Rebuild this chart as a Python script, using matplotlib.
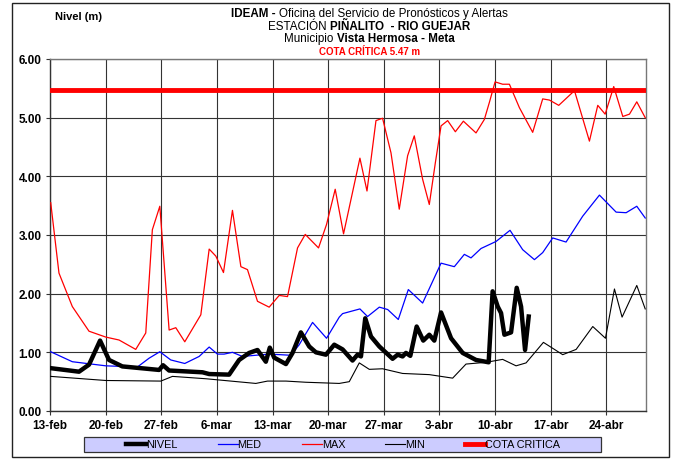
import matplotlib
matplotlib.use("Agg")
import matplotlib.pyplot as plt
from matplotlib.patches import Rectangle

plt.rcParams['font.family'] = ['Liberation Sans', 'DejaVu Sans']

# Data (x = days since 13-feb)
tick_days = [0, 7, 14, 21, 28, 35, 42, 49, 56, 63, 70]
tick_labels = ['13-feb', '20-feb', '27-feb', '6-mar', '13-mar', '20-mar',
               '27-mar', '3-abr', '10-abr', '17-abr', '24-abr']
cota = 5.47

max_d = [0.09, 1.13, 2.81, 4.91, 7.02, 8.69, 10.79, 12.05, 12.88, 13.82, 14.99, 15.83,
         16.96, 18.98, 20.03, 20.87, 21.83, 22.96, 24.02, 24.85, 26.11, 27.58, 28.84,
         29.89, 31.15, 32.12, 33.79, 34.80, 35.89, 36.94, 39.0, 39.89, 41.02, 41.85,
         42.91, 43.95, 45.0, 45.84, 46.89, 47.73, 48.49, 49.21, 50.04, 51.01, 52.02,
         53.61, 54.66, 55.29, 56.01, 56.96, 57.81, 59.07, 60.74, 62.0, 62.85, 64.02,
         66.0, 67.88, 68.93, 69.86, 70.94, 72.08, 72.92, 73.84, 74.9]
max_v = [3.55, 2.35, 1.78, 1.36, 1.26, 1.21, 1.05, 1.33, 3.09, 3.49, 1.38, 1.42,
         1.18, 1.64, 2.76, 2.64, 2.36, 3.42, 2.46, 2.41, 1.87, 1.77, 1.97,
         1.95, 2.78, 3.01, 2.78, 3.18, 3.78, 3.02, 4.31, 3.75, 4.95, 4.99,
         4.40, 3.44, 4.35, 4.69, 3.95, 3.52, 4.23, 4.86, 4.95, 4.76, 4.94,
         4.74, 4.97, 5.26, 5.61, 5.57, 5.57, 5.17, 4.75, 5.32, 5.30, 5.21,
         5.46, 4.60, 5.21, 5.06, 5.53, 5.02, 5.06, 5.27, 5.00]

med_d = [0.09, 2.81, 7.02, 11.0, 12.47, 13.82, 15.2, 16.96, 18.77, 20.03, 21.07, 21.91,
         22.96, 24.22, 27.58, 30.31, 31.36, 33.04, 34.8, 36.4, 36.82, 39.0, 39.96,
         41.44, 42.49, 43.83, 45.09, 46.89, 49.21, 50.88, 52.14, 52.98, 54.24, 56.13,
         57.89, 59.48, 60.96, 62.0, 63.26, 64.94, 67.03, 69.14, 71.24, 72.5, 73.84, 74.9]
med_v = [1.01, 0.84, 0.77, 0.75, 0.90, 1.01, 0.87, 0.81, 0.93, 1.09, 0.97, 0.97,
         1.00, 0.93, 0.97, 0.95, 1.13, 1.51, 1.24, 1.60, 1.66, 1.74, 1.61,
         1.77, 1.73, 1.56, 2.07, 1.84, 2.52, 2.46, 2.67, 2.61, 2.77, 2.89,
         3.08, 2.75, 2.58, 2.70, 2.95, 2.88, 3.32, 3.68, 3.39, 3.38, 3.49, 3.29]

min_d = [0.09, 7.02, 13.95, 15.41, 19.6, 25.9, 27.37, 29.69, 32.2, 36.4, 37.66, 38.92,
         40.18, 41.85, 44.37, 47.73, 50.67, 52.35, 54.87, 56.96, 58.65, 59.91, 62.09,
         64.52, 66.21, 68.3, 69.9, 71.03, 71.99, 73.84, 74.9]
min_v = [0.59, 0.52, 0.51, 0.59, 0.55, 0.47, 0.51, 0.51, 0.49, 0.47, 0.50, 0.82,
         0.71, 0.72, 0.64, 0.62, 0.56, 0.80, 0.83, 0.88, 0.77, 0.82, 1.17,
         0.96, 1.05, 1.44, 1.24, 2.08, 1.60, 2.14, 1.74]

niv_d = [0.09, 3.65, 4.91, 6.3, 7.43, 9.1, 13.73, 14.23, 14.99, 19.19, 20.03, 22.54,
         23.8, 25.06, 26.11, 27.16, 27.66, 28.21, 29.69, 30.52, 31.57, 32.62, 33.46,
         34.72, 35.77, 36.82, 38.07, 38.7, 39.13, 39.67, 40.39, 41.44, 43.11, 43.75,
         44.37, 44.79, 45.34, 46.14, 46.97, 47.73, 48.36, 49.21, 50.47, 51.93, 53.61,
         55.2, 55.7, 56.34, 56.76, 57.18, 58.02, 58.73, 59.28, 59.78, 60.24]
niv_v = [0.73, 0.67, 0.79, 1.20, 0.87, 0.76, 0.70, 0.78, 0.69, 0.66, 0.63, 0.62,
         0.87, 0.99, 1.04, 0.84, 1.08, 0.91, 0.80, 0.99, 1.34, 1.10, 1.00,
         0.96, 1.13, 1.05, 0.86, 0.96, 0.93, 1.58, 1.27, 1.10, 0.89, 0.96,
         0.93, 0.99, 0.94, 1.44, 1.20, 1.30, 1.20, 1.68, 1.24, 0.99, 0.87,
         0.83, 2.04, 1.78, 1.67, 1.30, 1.34, 2.10, 1.78, 1.04, 1.61]

W, H = 674, 460
fig = plt.figure(figsize=(6.74, 4.6), dpi=100)
ax = fig.add_axes([50/W, 1 - 412/H, 596/W, 352/H])

# figure frame
fig.patches.append(Rectangle((12/W, 2/H), 657/W, 454/H, transform=fig.transFigure,
                             fill=False, edgecolor='#222222', lw=1.0))
# legend box
fig.patches.append(Rectangle((84/W, 1 - 453/H), 517/W, 15/H, transform=fig.transFigure,
                             facecolor='#ccccff', edgecolor='#333333', lw=0.9))

l_niv, = ax.plot(niv_d, niv_v, color='black', lw=3.2, solid_joinstyle='round', label='NIVEL', zorder=5)
l_med, = ax.plot(med_d, med_v, color='#0000ff', lw=0.9, label='MED', zorder=4)
l_max, = ax.plot(max_d, max_v, color='#ff0000', lw=0.9, label='MAX', zorder=4)
l_min, = ax.plot(min_d, min_v, color='black', lw=0.8, label='MIN', zorder=4)
l_cota = ax.axhline(cota, color='#ff0000', lw=3.5, label='COTA CRITICA', zorder=6)

ax.set_xlim(0, 75)
ax.set_ylim(0, 6)
ax.set_xticks(tick_days)
ax.set_xticklabels(tick_labels, fontweight='bold', fontsize=8.5)
ax.set_yticks(range(7))
ax.set_yticklabels(['%.2f' % v for v in range(7)], fontweight='bold', fontsize=8.5)
ax.tick_params(length=3, width=0.8, color='#333333', pad=3)
ax.grid(True, color='#333333', lw=0.8)
ax.set_axisbelow(True)
for s in ax.spines.values():
    s.set_color('#777777')
    s.set_linewidth(1.0)
ax.spines['left'].set_color('#333333')
ax.spines['bottom'].set_color('#333333')

leg = fig.legend(handles=[l_niv, l_med, l_max, l_min, l_cota], loc='center left',
                 bbox_to_anchor=(126/W, 1 - 445.5/H), ncol=5, fontsize=7.8,
                 frameon=False, handlelength=1.85, handletextpad=0.0,
                 columnspacing=3.7, borderpad=0.0, borderaxespad=0.0)

# title block with mixed weights
renderer = fig.canvas.get_renderer()

def mixed_line(parts, y, cx=369.5, size=8.4, color='black'):
    texts = []
    for s, w in parts:
        texts.append(fig.text(0, y, s, fontsize=size, fontweight=w, color=color,
                              ha='left', va='center'))
    widths = [t.get_window_extent(renderer).width for t in texts]
    x = cx - sum(widths) / 2
    for t, w in zip(texts, widths):
        t.set_x(x / W)
        x += w

mixed_line([('IDEAM - ', 'bold'), ('Oficina del Servicio de Pronósticos y Alertas', 'normal')], 1 - 14/H)
mixed_line([('ESTACIÓN ', 'normal'), ('PIÑALITO  - RIO GUEJAR', 'bold')], 1 - 26.5/H)
mixed_line([('Municipio ', 'normal'), ('Vista Hermosa - Meta', 'bold')], 1 - 39/H)
mixed_line([('COTA CRÍTICA 5.47 m', 'bold')], 1 - 52/H, size=7.0, color='#ff0000')
fig.text(55/W, 1 - 17/H, 'Nivel (m)', fontsize=8, fontweight='bold', ha='left', va='center')

fig.savefig('out.png', dpi=100)
